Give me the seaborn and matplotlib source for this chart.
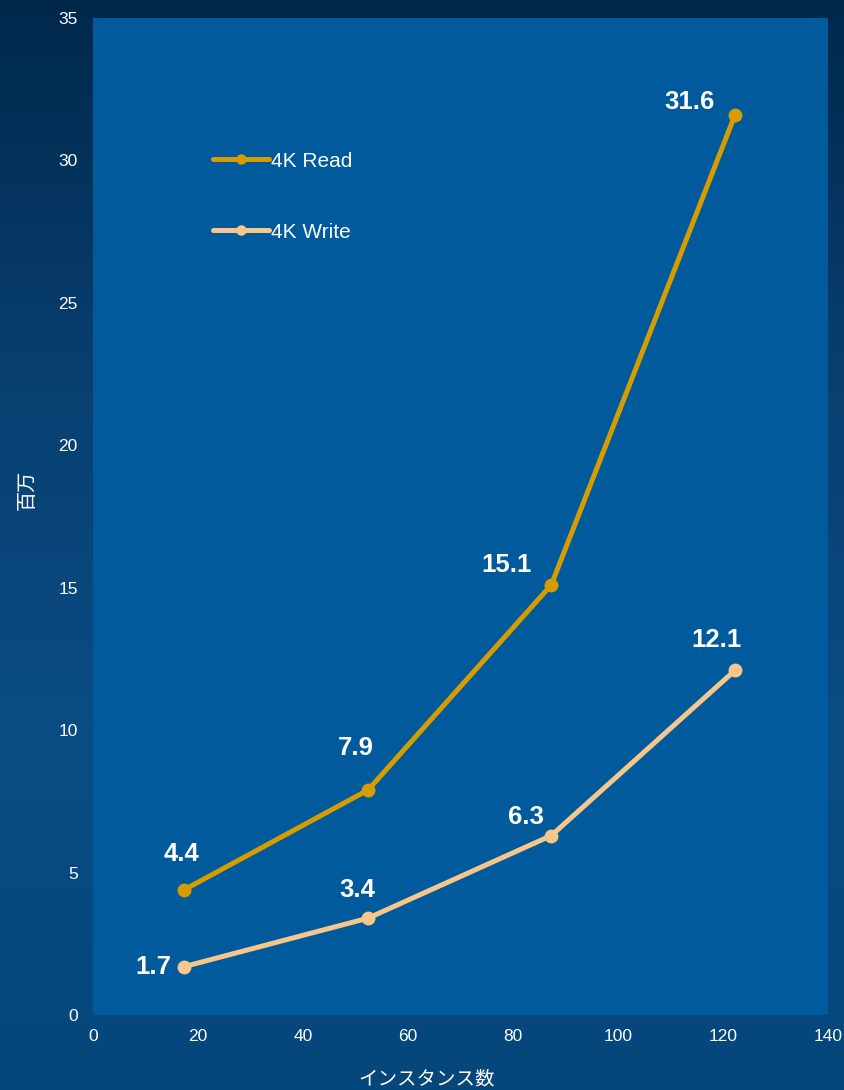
import numpy as np
import pandas as pd
import seaborn as sns
import matplotlib.pyplot as plt
from matplotlib.colors import LinearSegmentedColormap

instances = [17.4, 52.4, 87.3, 122.3]
read_vals = [4.4, 7.9, 15.1, 31.6]
write_vals = [1.7, 3.4, 6.3, 12.1]
series_names = ["4K Read", "4K Write"]
x_ticks = [0, 20, 40, 60, 80, 100, 120, 140]
y_ticks = [0, 5, 10, 15, 20, 25, 30, 35]

df = pd.DataFrame({
    "x": instances * 2,
    "y": read_vals + write_vals,
    "series": [series_names[0]] * 4 + [series_names[1]] * 4,
})

sns.set_style("white")
plt.rcParams["font.family"] = ["Liberation Sans", "Noto Sans CJK JP"]

fig = plt.figure(figsize=(8.44, 10.9), dpi=100)

# background gradient
bg = fig.add_axes([0, 0, 1, 1], zorder=-10)
grad = LinearSegmentedColormap.from_list("bg", ["#00284b", "#083f70", "#0a4c84", "#05477b"])
bg.imshow(np.linspace(0, 1, 256).reshape(-1, 1), aspect="auto", cmap=grad, extent=[0, 1, 0, 1])
bg.axis("off")

ax = fig.add_axes([0.1102, 0.0688, 0.8708, 0.9147])
ax.set_facecolor("#005a9c")

colors = {"4K Read": "#d69c00", "4K Write": "#f7c68a"}
sns.lineplot(data=df, x="x", y="y", hue="series", palette=colors, marker="o",
             markersize=10, markeredgewidth=0, linewidth=3.6, ax=ax, legend=False)

handles = [plt.Line2D([], [], color=colors[n], lw=3.6, marker="o", markersize=7.5,
                      markeredgewidth=0) for n in series_names]
leg = ax.legend(handles, series_names, loc="upper left", bbox_to_anchor=(0.163, 0.866),
                frameon=False, fontsize=15, labelcolor="white", handlelength=2.7,
                handletextpad=0.1, labelspacing=2.5, borderpad=0, borderaxespad=0,
                numpoints=1)

# data labels
read_off = [(-2, 26), (-9, 30), (-32, 14), (-33, 9)]
write_off = [(-22, 0), (-8, 20), (-18, 13), (-13, 22)]
for xs, vals, offs in [(instances, read_vals, read_off), (instances, write_vals, write_off)]:
    for x, v, o in zip(xs, vals, offs):
        ax.annotate(f"{v:.1f}", (x, v), xytext=o, textcoords="offset points",
                    ha="center", va="center", fontsize=18.5, fontweight="bold", color="white")

ax.set_xlim(0, 140)
ax.set_ylim(0, 35)
ax.set_xticks(x_ticks)
ax.set_yticks(y_ticks)
ax.tick_params(axis="both", length=0, labelsize=12.5, colors="white")
ax.tick_params(axis="y", pad=11)
ax.tick_params(axis="x", pad=10)
for s in ax.spines.values():
    s.set_visible(False)

ax.set_xlabel("インスタンス数", fontsize=14, color="white")
ax.set_ylabel("百万", fontsize=14.5, color="white")
ax.xaxis.set_label_coords(0.454, -0.056)
ax.yaxis.set_label_coords(-0.076, 0.527)

fig.savefig("out.png", dpi=100)
